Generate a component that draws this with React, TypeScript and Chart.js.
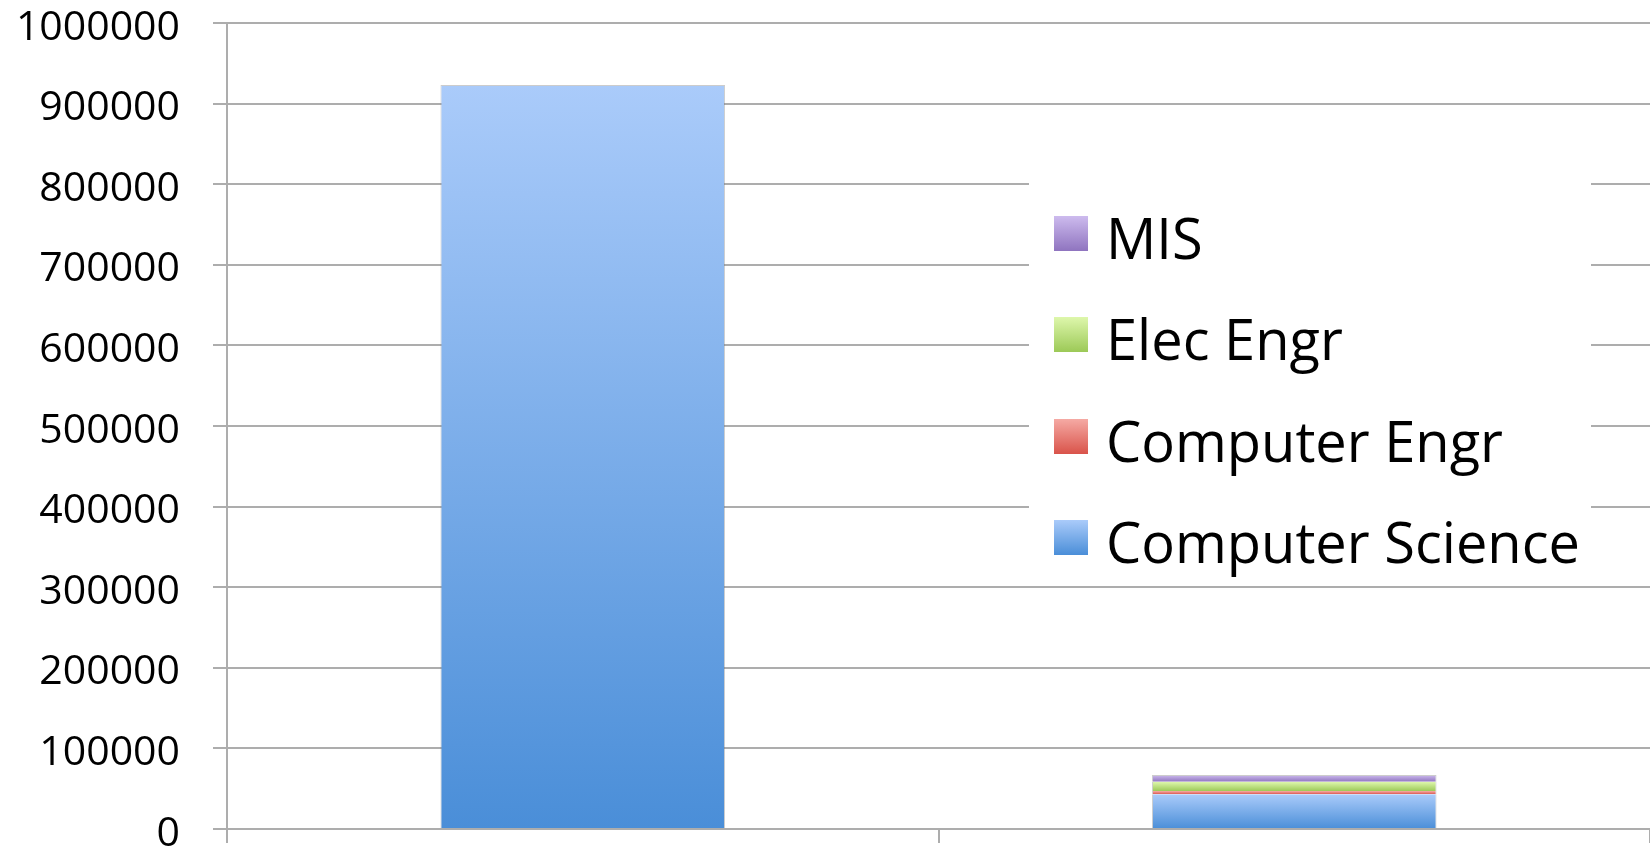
import React, { useEffect, useRef } from "react";
import { Chart, registerables } from "chart.js";

Chart.register(...registerables);

// ---- Data ----
const categories = ["Jobs", "Graduates"];
const computerScience = [923000, 43000];
const computerEngr = [0, 4000];
const elecEngr = [0, 11500];
const mis = [0, 8500];
const seriesNames = ["Computer Science", "Computer Engr", "Elec Engr", "MIS"];
const yMin = 0;
const yMax = 1000000;
const yStep = 100000;

// ---- Styles ----
const seriesGradients: [string, string][] = [
  ["#aacbfa", "#4a8ed8"],
  ["#f5aaa4", "#d9534a"],
  ["#def7ac", "#9cc957"],
  ["#cdbbee", "#8f74bf"],
];
const allSeries = [computerScience, computerEngr, elecEngr, mis];
const gridColor = "#adadad";

const makeBg = (dsIndex: number) => (ctx: any) => {
  const [top, bot] = seriesGradients[dsIndex];
  const chart = ctx.chart;
  const y = chart.scales && chart.scales.y;
  if (!y || ctx.type !== "data") return bot;
  const j = ctx.dataIndex;
  let base = 0;
  for (let k = 0; k < dsIndex; k++) base += allSeries[k][j];
  const v = allSeries[dsIndex][j];
  const yT = y.getPixelForValue(base + v);
  const yB = y.getPixelForValue(base);
  if (!isFinite(yT) || !isFinite(yB) || yB - yT < 0.5) return bot;
  const g = chart.ctx.createLinearGradient(0, yT, 0, yB);
  g.addColorStop(0, top);
  g.addColorStop(1, bot);
  return g;
};

const makeBorder = (dsIndex: number) => (ctx: any) => {
  if (ctx.type !== "data") return 0;
  const j = ctx.dataIndex;
  if (!allSeries[dsIndex][j]) return 0;
  let isTop = true;
  for (let k = dsIndex + 1; k < allSeries.length; k++) if (allSeries[k][j]) isTop = false;
  return { top: isTop ? 1 : 0, left: 1, right: 1, bottom: 0 };
};

export default function App() {
  const canvasRef = useRef<HTMLCanvasElement | null>(null);

  useEffect(() => {
    const canvas = canvasRef.current;
    if (!canvas) return;
    const chart = new Chart(canvas, {
      type: "bar",
      data: {
        labels: categories,
        datasets: allSeries.map((data, i) => ({
          label: seriesNames[i],
          data,
          backgroundColor: makeBg(i),
          borderColor: "rgba(110,110,110,0.35)",
          borderWidth: makeBorder(i),
          borderSkipped: false,
          barPercentage: 0.4,
          categoryPercentage: 1,
        })),
      },
      options: {
        animation: false,
        responsive: false,
        devicePixelRatio: 1,
        layout: { padding: { left: 0, top: 23, right: 0, bottom: 10 } },
        plugins: {
          legend: { display: false },
          tooltip: { enabled: false },
        },
        scales: {
          x: {
            stacked: true,
            offset: true,
            grid: {
              display: true,
              offset: true,
              drawOnChartArea: false,
              drawTicks: true,
              tickLength: 14,
              color: gridColor,
              lineWidth: 2,
            },
            border: { display: true, color: gridColor, width: 2 },
            ticks: { display: false },
            afterFit: (scale: any) => {
              scale.height = 14;
              scale.paddingLeft = 0;
              scale.paddingRight = 0;
            },
          },
          y: {
            stacked: true,
            min: yMin,
            max: yMax,
            grid: {
              color: gridColor,
              lineWidth: 2,
              tickLength: 14,
            },
            border: { display: true, color: gridColor, width: 2 },
            ticks: {
              stepSize: yStep,
              padding: 33,
              labelOffset: 5,
              color: "#000",
              font: { family: "'Open Sans'", size: 41, lineHeight: 1.1 },
              callback: (v: any) => String(v),
            },
            afterFit: (scale: any) => {
              scale.width = 227;
              scale.paddingTop = 0;
              scale.paddingBottom = 0;
            },
          },
        },
      },
    });
    return () => chart.destroy();
  }, []);

  const legendOrder = [3, 2, 1, 0];

  return (
    <div style={{ position: "absolute", left: 0, top: 0, width: 1650, height: 853 }}>
      <canvas ref={canvasRef} width={1650} height={853} style={{ display: "block" }} />
      <div
        style={{
          position: "absolute",
          left: 1029,
          top: 183,
          width: 562,
          height: 403,
          background: "#fff",
          fontFamily: "'Open Sans', sans-serif",
          fontSize: 56,
          lineHeight: "56px",
          color: "#000",
        }}
      >
        {legendOrder.map((si, row) => (
          <React.Fragment key={si}>
            <div
              style={{
                position: "absolute",
                left: 25,
                top: 32.7 + 101.5 * row,
                width: 34,
                height: 35,
                background: `linear-gradient(${seriesGradients[si][0]}, ${seriesGradients[si][1]})`,
              }}
            />
            <div
              style={{
                position: "absolute",
                left: 77,
                top: 25.6 + 101.5 * row,
                whiteSpace: "nowrap",
              }}
            >
              {seriesNames[si]}
            </div>
          </React.Fragment>
        ))}
      </div>
    </div>
  );
}
